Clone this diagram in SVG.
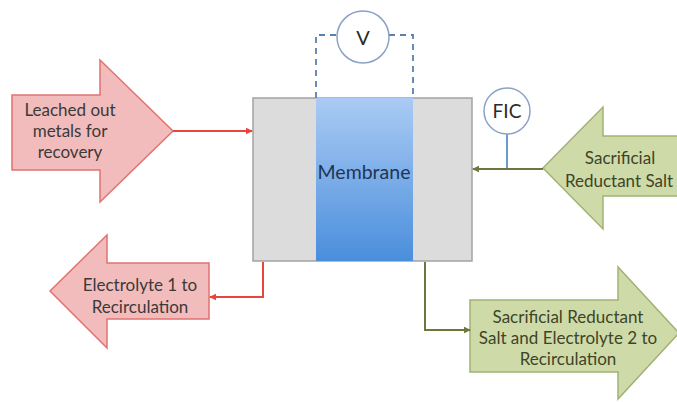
<svg xmlns="http://www.w3.org/2000/svg" width="677" height="402" viewBox="0 0 677 402">
  <defs>
    <linearGradient id="memGrad" x1="0" y1="0" x2="0" y2="1">
      <stop offset="0" stop-color="#AACBF4"/>
      <stop offset="1" stop-color="#4A8EDC"/>
    </linearGradient>
    <marker id="arrRed" markerWidth="8" markerHeight="8" refX="6" refY="4" orient="auto" markerUnits="userSpaceOnUse">
      <path d="M0,0.8 L7,4 L0,7.2 Z" fill="#E8453C"/>
    </marker>
    <marker id="arrGreen" markerWidth="8" markerHeight="8" refX="6" refY="4" orient="auto" markerUnits="userSpaceOnUse">
      <path d="M0,0.8 L7,4 L0,7.2 Z" fill="#6A7840"/>
    </marker>
  </defs>
  <style>
    text { font-family: Lato, "Open Sans", "Liberation Sans", sans-serif; font-size: 17px; text-anchor: middle; }
    .red { fill: #F2BCBC; stroke: #E27272; stroke-width: 1.5; }
    .green { fill: #CEDBA8; stroke: #A2B274; stroke-width: 1.5; }
    .lbl { fill: #3A3A3A; }
    .lblg { fill: #3E4428; }
    .inst { fill: #FFFFFF; stroke: #8CA2C4; stroke-width: 1.5; }
    .redline { fill: none; stroke: #E8453C; stroke-width: 2; }
    .greenline { fill: none; stroke: #6A7840; stroke-width: 2; }
  </style>
  <rect width="677" height="402" fill="#FFFFFF"/>

  <!-- cell -->
  <g id="cell">
    <rect x="253" y="98" width="219" height="163" fill="#DCDCDC" stroke="#A3A3A3" stroke-width="1.5"/>
    <rect x="316" y="98" width="97" height="163" fill="url(#memGrad)"/>
    <text x="364" y="179" style="font-size:19.5px" fill="#1E3656">Membrane</text>
  </g>

  <!-- voltmeter -->
  <g id="voltmeter">
    <path d="M316,98 V35 H337 M389,35 H413 V98" fill="none" stroke="#5A80AE" stroke-width="1.8" stroke-dasharray="6,5"/>
    <circle class="inst" cx="363" cy="37" r="26"/>
    <text x="363" y="45" style="font-size:20px" fill="#2A2A2A">V</text>
  </g>

  <!-- flow controller -->
  <g id="fic">
    <line x1="507" y1="134" x2="507" y2="169" stroke="#6A9BD0" stroke-width="2"/>
    <circle class="inst" cx="507" cy="111" r="23"/>
    <text x="507" y="118" style="font-size:19px" fill="#2A2A2A">FIC</text>
  </g>

  <!-- feed: leached metals -->
  <g id="leached">
    <path class="red" d="M12,95 H100 V60 L173,131 L100,202 V170 H12 Z"/>
    <text class="lbl" x="70" y="116">Leached out</text>
    <text class="lbl" x="70" y="137">metals for</text>
    <text class="lbl" x="70" y="158">recovery</text>
  </g>

  <!-- feed: reductant salt -->
  <g id="reductant">
    <path class="green" d="M679,136 H603 V107 L543,168 L603,229 V196 H679 Z"/>
    <text class="lblg" x="620" y="164">Sacrificial</text>
    <text class="lblg" x="619" y="187">Reductant Salt</text>
  </g>

  <!-- outlet: electrolyte 1 -->
  <g id="electrolyte1">
    <path class="red" d="M209,263 H107 V235 L50,291 L107,348 V319 H209 Z"/>
    <text class="lbl" x="140" y="291">Electrolyte 1 to</text>
    <text class="lbl" x="140" y="313">Recirculation</text>
  </g>

  <!-- outlet: reductant salt + electrolyte 2 -->
  <g id="electrolyte2">
    <path class="green" d="M470,300 H618 V267 L679,333 L618,399 V372 H470 Z"/>
    <text class="lblg" x="568" y="323">Sacrificial Reductant</text>
    <text class="lblg" x="568" y="344">Salt and Electrolyte 2 to</text>
    <text class="lblg" x="568" y="365">Recirculation</text>
  </g>

  <!-- connectors -->
  <g id="connectors">
    <path class="redline" d="M173,131 H252" marker-end="url(#arrRed)"/>
    <path class="greenline" d="M543,169 H473" marker-end="url(#arrGreen)"/>
    <path class="redline" d="M263,262 V297 H210" marker-end="url(#arrRed)"/>
    <path class="greenline" d="M425,262 V330 H470" marker-end="url(#arrGreen)"/>
  </g>
</svg>
